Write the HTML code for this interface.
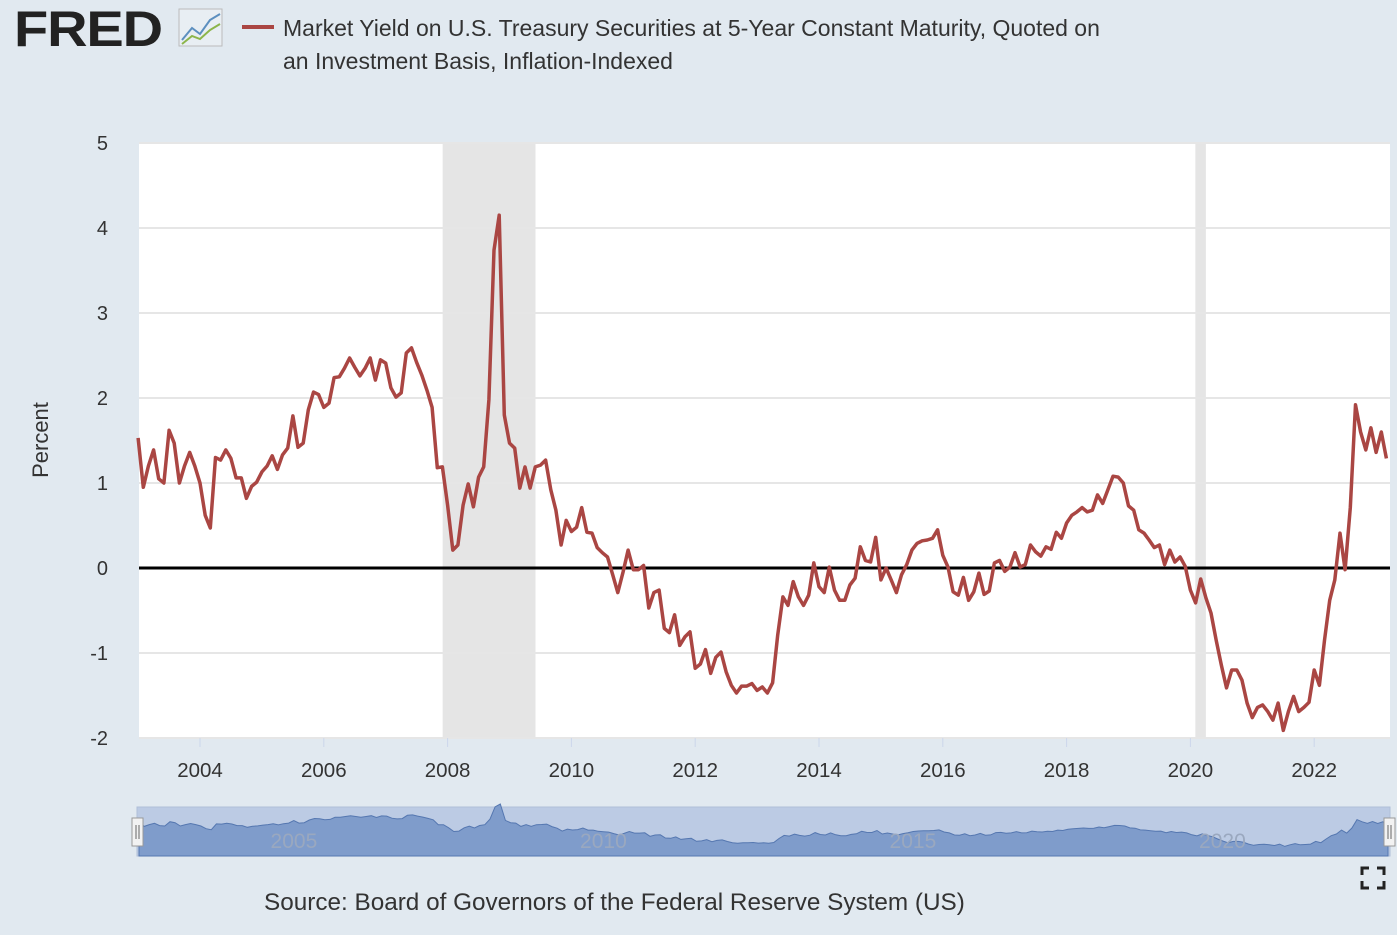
<!DOCTYPE html>
<html><head><meta charset="utf-8">
<style>
body{margin:0;width:1397px;height:935px;background:#e1e9f0;font-family:"Liberation Sans",sans-serif;overflow:hidden;position:relative}
#logo{position:absolute;left:14px;top:0px;font:900 50px "Liberation Sans",sans-serif;color:#222;letter-spacing:-1px;transform:scaleX(1.12);transform-origin:left}
#title{position:absolute;left:283px;top:12px;font-size:23px;color:#333;line-height:33px;width:845px}
#leg{position:absolute;left:242px;top:25px;width:32px;height:4px;background:#aa4643}
#src{position:absolute;left:264px;top:889px;font-size:24.3px;color:#333}
</style></head><body>
<div id="logo">FRED</div>
<svg style="position:absolute;left:178px;top:8px" width="46" height="40"><rect x="1" y="1" width="43" height="37" fill="#e8eef3" stroke="#bbb"/><polyline points="4,32 14,20 22,26 32,12 42,6" fill="none" stroke="#5c8fbf" stroke-width="2"/><polyline points="4,36 14,28 22,31 32,22 42,16" fill="none" stroke="#8cb54a" stroke-width="2"/></svg>
<div id="leg"></div>
<div id="title">Market Yield on U.S. Treasury Securities at 5-Year Constant Maturity, Quoted on an Investment Basis, Inflation-Indexed</div>
<svg id="chart" width="1397" height="935" style="position:absolute;left:0;top:0"></svg>
<div id="src">Source: Board of Governors of the Federal Reserve System (US)</div>
<svg style="position:absolute;left:1360px;top:866px" width="26" height="24"><path d="M2 9V2h7M17 2h7v7M24 15v7h-7M9 22H2v-7" fill="none" stroke="#222" stroke-width="3"/></svg>
<script>
const yTicks=[-2,-1,0,1,2,3,4,5];
const xTickYears=[2004,2006,2008,2010,2012,2014,2016,2018,2020,2022];
const navLabels=[2005,2010,2015,2020];
const recessions=[[2007.92,2009.42],[2020.08,2020.25]];
const startYear=2003;
const values=[1.53,0.95,1.2,1.39,1.05,1.0,1.62,1.47,1.0,1.2,1.36,1.2,
1.0,0.62,0.47,1.3,1.27,1.39,1.29,1.06,1.06,0.82,0.96,1.01,
1.13,1.2,1.32,1.16,1.33,1.41,1.79,1.42,1.47,1.86,2.07,2.04,
1.89,1.94,2.24,2.25,2.35,2.47,2.36,2.26,2.35,2.47,2.21,2.45,
2.41,2.12,2.01,2.06,2.53,2.59,2.42,2.27,2.09,1.89,1.18,1.19,
0.74,0.21,0.27,0.74,0.99,0.72,1.07,1.19,1.98,3.74,4.15,1.8,
1.47,1.41,0.94,1.19,0.94,1.19,1.21,1.27,0.92,0.68,0.27,0.56,
0.43,0.48,0.71,0.42,0.41,0.24,0.18,0.13,-0.08,-0.29,-0.05,0.21,
-0.02,-0.02,0.03,-0.47,-0.29,-0.26,-0.71,-0.76,-0.55,-0.91,-0.81,-0.75,
-1.18,-1.13,-0.96,-1.24,-1.05,-0.99,-1.22,-1.38,-1.47,-1.39,-1.39,-1.36,
-1.44,-1.4,-1.47,-1.35,-0.79,-0.34,-0.44,-0.16,-0.34,-0.44,-0.32,0.06,
-0.22,-0.29,0.01,-0.26,-0.38,-0.38,-0.2,-0.12,0.25,0.09,0.07,0.36,
-0.14,0.0,-0.14,-0.29,-0.08,0.04,0.21,0.29,0.32,0.33,0.35,0.45,
0.15,0.01,-0.28,-0.32,-0.11,-0.38,-0.28,-0.06,-0.31,-0.27,0.06,0.09,
-0.04,0.01,0.18,0.01,0.04,0.27,0.19,0.14,0.25,0.22,0.42,0.35,
0.53,0.62,0.66,0.71,0.66,0.68,0.86,0.76,0.92,1.08,1.07,1.0,
0.73,0.68,0.45,0.41,0.33,0.24,0.27,0.04,0.21,0.07,0.13,0.02,
-0.26,-0.41,-0.13,-0.35,-0.53,-0.85,-1.14,-1.41,-1.2,-1.2,-1.32,-1.59,
-1.76,-1.64,-1.61,-1.69,-1.79,-1.59,-1.91,-1.69,-1.51,-1.69,-1.64,-1.58,
-1.2,-1.38,-0.85,-0.38,-0.14,0.41,-0.02,0.71,1.92,1.6,1.39,1.65,
1.36,1.6,1.29];
const NS="http://www.w3.org/2000/svg";
const svg=document.getElementById('chart');
const X0=139,X1=1390,Y0=143,Y1=738;
const yS=v=>568-v*85;
const xS=t=>200+(t-2004)*61.9;
function mk(tag,at,parent){const e=document.createElementNS(NS,tag);for(const k in at)e.setAttribute(k,at[k]);(parent||svg).appendChild(e);return e;}
const bg=mk('rect',{x:X0,y:Y0,width:X1-X0,height:Y1-Y0,fill:'#fff'});


recessions.forEach(r=>{const e=mk('rect',{x:xS(r[0]),y:Y0,width:xS(r[1])-xS(r[0]),height:Y1-Y0,fill:'#e5e5e5'});

});
yTicks.forEach(v=>{
 if(v!==0){const g=mk('line',{x1:X0,x2:X1,y1:yS(v),y2:yS(v),stroke:'#e6e6e6','stroke-width':2});
 
 }
 const t=mk('text',{x:108,y:yS(v)+7,'text-anchor':'end','font-size':20,fill:'#333','font-family':'Liberation Sans'});t.textContent=v;
 
 
});
xTickYears.forEach(yr=>{
 const l=mk('line',{x1:xS(yr),x2:xS(yr),y1:Y1,y2:Y1+9,stroke:'#ccd6eb','stroke-width':1});
 
 
 const t=mk('text',{x:xS(yr),y:777,'text-anchor':'middle','font-size':20.5,fill:'#333','font-family':'Liberation Sans'});t.textContent=yr;
 
 
});
const yt=mk('text',{x:48,y:440,'text-anchor':'middle','font-size':22,fill:'#333','font-family':'Liberation Sans',transform:'rotate(-90 48 440)'});yt.textContent='Percent';


const zl=mk('line',{x1:X0,x2:X1,y1:yS(0),y2:yS(0),stroke:'#000','stroke-width':3});


const pts=values.map((v,i)=>xS(startYear+i/12).toFixed(1)+','+yS(v).toFixed(1)).join(' ');
const ln=mk('polyline',{points:pts,fill:'none',stroke:'#aa4643','stroke-width':3.5,'stroke-linejoin':'round'});


const NX0=139,NX1=1388,NYT=807,NYB=856;
const nb=mk('rect',{x:NX0-2,y:NYT,width:NX1-NX0+4,height:NYB-NYT,fill:'#bccbe4',stroke:'#b0bfd8'});


const nx=i=>NX0+i*(NX1-NX0)/(values.length-1);
const ny=v=>847-(v+2)*7;
let ap='M'+NX0+','+NYB+' '+values.map((v,i)=>'L'+nx(i).toFixed(1)+','+ny(v).toFixed(1)).join(' ')+' L'+NX1+','+NYB+'Z';
const na=mk('path',{d:ap,fill:'#7f9ccb',stroke:'#5577b0','stroke-width':1});


navLabels.forEach(yr=>{const t=mk('text',{x:xS(yr)+32,y:848,'text-anchor':'middle','font-size':21,fill:'#9aa8bf','font-family':'Liberation Sans'});t.textContent=yr;
 
 });
[132,1384].forEach(x=>{const h=mk('rect',{x:x,y:818,width:11,height:28,fill:'#f2f2f2',stroke:'#999'});
 
 
 mk('line',{x1:x+4,x2:x+4,y1:825,y2:839,stroke:'#666'});mk('line',{x1:x+7,x2:x+7,y1:825,y2:839,stroke:'#666'});});
</script>
</body></html>
